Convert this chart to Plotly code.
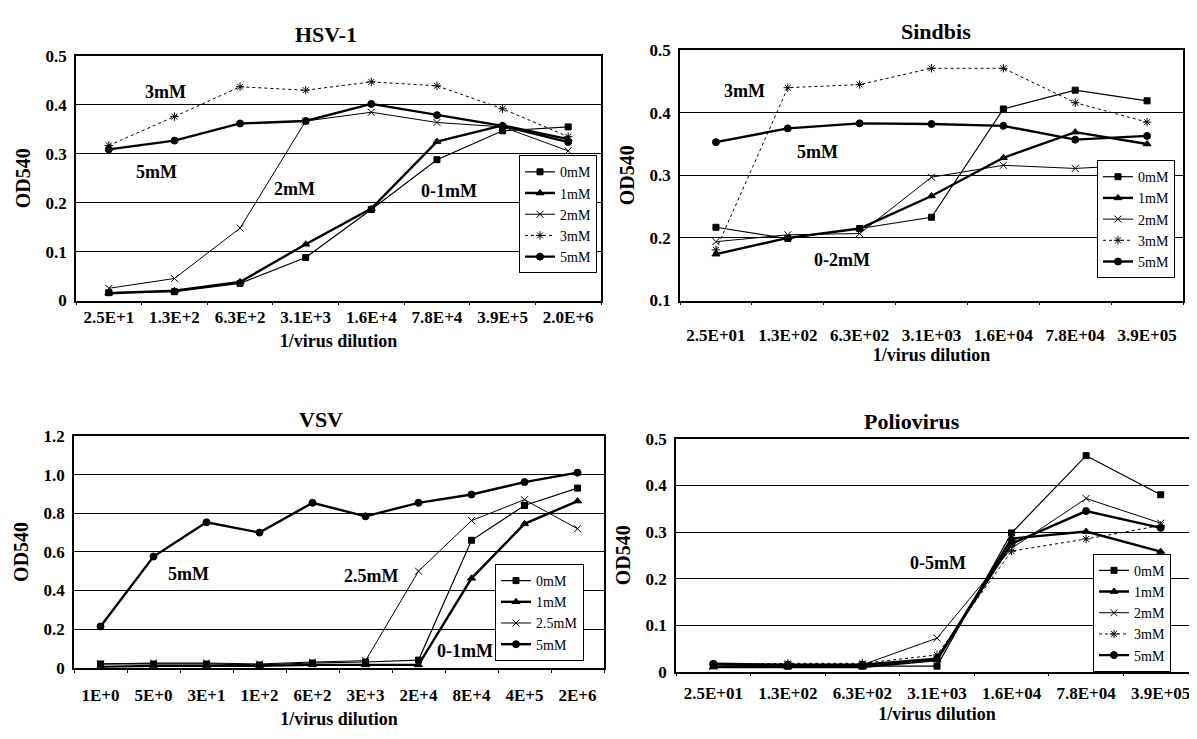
import plotly.graph_objects as go

# ---------------- data ----------------
hsv_x = ["2.5E+1", "1.3E+2", "6.3E+2", "3.1E+3", "1.6E+4", "7.8E+4", "3.9E+5", "2.0E+6"]
hsv_0 = [0.016, 0.018, 0.035, 0.088, 0.186, 0.288, 0.347, 0.355]
hsv_1 = [0.015, 0.020, 0.038, 0.115, 0.188, 0.325, 0.358, 0.330]
hsv_2 = [0.025, 0.045, 0.148, 0.367, 0.385, 0.364, 0.355, 0.306]
hsv_3 = [0.317, 0.376, 0.437, 0.430, 0.447, 0.439, 0.392, 0.335]
hsv_5 = [0.309, 0.327, 0.362, 0.367, 0.402, 0.379, 0.357, 0.324]

sin_x = ["2.5E+01", "1.3E+02", "6.3E+02", "3.1E+03", "1.6E+04", "7.8E+04", "3.9E+05"]
sin_0 = [0.217, 0.199, 0.215, 0.233, 0.406, 0.436, 0.419]
sin_1 = [0.174, 0.200, 0.215, 0.267, 0.328, 0.369, 0.350]
sin_2 = [0.194, 0.205, 0.207, 0.297, 0.316, 0.311, 0.317]
sin_3 = [0.181, 0.440, 0.445, 0.471, 0.471, 0.416, 0.385]
sin_5 = [0.353, 0.375, 0.383, 0.382, 0.379, 0.357, 0.363]

vsv_x = ["1E+0", "5E+0", "3E+1", "1E+2", "6E+2", "3E+3", "2E+4", "8E+4", "4E+5", "2E+6"]
vsv_0 = [0.020, 0.020, 0.020, 0.015, 0.025, 0.030, 0.040, 0.660, 0.840, 0.930]
vsv_1 = [0.005, 0.010, 0.010, 0.010, 0.015, 0.015, 0.015, 0.463, 0.745, 0.863]
vsv_25 = [0.020, 0.025, 0.025, 0.020, 0.030, 0.037, 0.500, 0.762, 0.870, 0.720]
vsv_5 = [0.214, 0.576, 0.753, 0.700, 0.854, 0.784, 0.854, 0.897, 0.961, 1.010]

pol_x = ["2.5E+01", "1.3E+02", "6.3E+02", "3.1E+03", "1.6E+04", "7.8E+04", "3.9E+05"]
pol_0 = [0.015, 0.012, 0.012, 0.012, 0.298, 0.464, 0.380]
pol_1 = [0.010, 0.010, 0.010, 0.025, 0.286, 0.301, 0.258]
pol_2 = [0.012, 0.015, 0.015, 0.072, 0.265, 0.372, 0.319]
pol_3 = [0.015, 0.018, 0.018, 0.036, 0.259, 0.285, 0.314]
pol_5 = [0.017, 0.015, 0.015, 0.028, 0.275, 0.345, 0.309]

# ---------------- styling ----------------
W, H = 1197, 739
SERIF = "Liberation Serif"

def px_x(p):
    return p / W

def px_y(p):
    return 1 - p / H

STYLE = {
    "0mM": dict(width=1.2, dash="solid", symbol="square", size=6),
    "1mM": dict(width=2.4, dash="solid", symbol="triangle-up", size=7),
    "2mM": dict(width=1.0, dash="solid", symbol="x-thin-open", size=7),
    "2.5mM": dict(width=1.0, dash="solid", symbol="x-thin-open", size=7),
    "3mM": dict(width=1.0, dash="dot", symbol="asterisk-open", size=7),
    "5mM": dict(width=2.4, dash="solid", symbol="circle", size=7),
}

fig = go.Figure()

def add(name, x, y, ax, leg):
    s = STYLE[name]
    fig.add_trace(go.Scatter(
        x=x, y=y, name=name, mode="lines+markers",
        xaxis="x" + ax, yaxis="y" + ax, legend=leg,
        line=dict(color="black", width=s["width"], dash=s["dash"]),
        marker=dict(symbol=s["symbol"], size=s["size"], color="black",
                    line=dict(color="black", width=1)),
    ))

for nm, arr in [("0mM", hsv_0), ("1mM", hsv_1), ("2mM", hsv_2), ("3mM", hsv_3), ("5mM", hsv_5)]:
    add(nm, hsv_x, arr, "", "legend")
for nm, arr in [("0mM", sin_0), ("1mM", sin_1), ("2mM", sin_2), ("3mM", sin_3), ("5mM", sin_5)]:
    add(nm, sin_x, arr, "2", "legend2")
for nm, arr in [("0mM", vsv_0), ("1mM", vsv_1), ("2.5mM", vsv_25), ("5mM", vsv_5)]:
    add(nm, vsv_x, arr, "3", "legend3")
for nm, arr in [("0mM", pol_0), ("1mM", pol_1), ("2mM", pol_2), ("3mM", pol_3), ("5mM", pol_5)]:
    add(nm, pol_x, arr, "4", "legend4")

tickfont = dict(family=SERIF, size=17, color="black", weight="bold")
axtitlefont = dict(family=SERIF, size=18, color="black", weight="bold")

def xaxis(dom, anchor, n, lab_off, title_off):
    return dict(domain=dom, anchor=anchor, type="category", range=[-0.5, n - 0.5],
                showline=True, linecolor="black", linewidth=1.5, mirror=True,
                ticks="outside", ticklen=3, tickcolor="black", tickson="boundaries",
                ticklabelstandoff=lab_off,
                showgrid=False, tickfont=tickfont, zeroline=False,
                title=dict(text="1/virus dilution", font=axtitlefont, standoff=title_off))

def yaxis(dom, anchor, rng, vals, texts):
    return dict(domain=dom, anchor=anchor, range=rng, tickvals=vals, ticktext=texts,
                showline=True, linecolor="black", linewidth=1.5, mirror=True,
                ticks="", showgrid=True, gridcolor="black", gridwidth=1,
                ticklabelstandoff=4,
                zeroline=False, tickfont=tickfont,
                title=dict(text="OD540", font=dict(family=SERIF, size=20, color="black", weight="bold"),
                           standoff=10))

d1x = [px_x(68), px_x(593)]; d1y = [px_y(291), px_y(40)]
d2x = [px_x(672), px_x(1175)]; d2y = [px_y(291), px_y(34)]
d3x = [px_x(66), px_x(596)]; d3y = [px_y(668), px_y(430)]
d4x = [px_x(668), px_x(1190)]; d4y = [px_y(672), px_y(433)]

def legend(xp, yp):
    return dict(x=px_x(xp), y=px_y(yp), xanchor="left", yanchor="bottom",
                bgcolor="white", bordercolor="black", borderwidth=1,
                font=dict(family=SERIF, size=14, color="black"),
                tracegroupgap=0, itemwidth=30)

fig.update_layout(
    width=W, height=H, margin=dict(l=0, r=0, t=0, b=0),
    paper_bgcolor="white", plot_bgcolor="white", showlegend=True,
    xaxis=xaxis(d1x, "y", len(hsv_x), 0, 9),
    yaxis=yaxis(d1y, "x", [0, 0.5], [0, 0.1, 0.2, 0.3, 0.4, 0.5],
                ["0", "0.1", "0.2", "0.3", "0.4", "0.5"]),
    xaxis2=xaxis(d2x, "y2", len(sin_x), 18, 2),
    yaxis2=yaxis(d2y, "x2", [0.1, 0.5], [0.1, 0.2, 0.3, 0.4, 0.5],
                 ["0.1", "0.2", "0.3", "0.4", "0.5"]),
    xaxis3=xaxis(d3x, "y3", len(vsv_x), 11, 8),
    yaxis3=yaxis(d3y, "x3", [0, 1.2], [0, 0.2, 0.4, 0.6, 0.8, 1.0, 1.2],
                 ["0", "0.2", "0.4", "0.6", "0.8", "1.0", "1.2"]),
    xaxis4=xaxis(d4x, "y4", len(pol_x), 5, 6),
    yaxis4=yaxis(d4y, "x4", [0, 0.5], [0, 0.1, 0.2, 0.3, 0.4, 0.5],
                 ["0", "0.1", "0.2", "0.3", "0.4", "0.5"]),
    legend=legend(511, 263),
    legend2=legend(1089, 268),
    legend3=legend(487, 661),
    legend4=legend(1085, 672),
)

titlefont = dict(family=SERIF, size=22, color="black", weight="bold")
for text, xp, yp in [("HSV-1", 318, 18), ("Sindbis", 928, 15), ("VSV", 313, 413), ("Poliovirus", 904, 415)]:
    fig.add_annotation(text=text, x=px_x(xp), y=px_y(yp), xref="paper", yref="paper",
                       showarrow=False, font=titlefont, xanchor="center", yanchor="middle")

labfont = dict(family=SERIF, size=18, color="black", weight="bold")
for text, xi, yv, ax in [
    ("3mM", 0.87, 0.427, ""), ("5mM", 0.73, 0.262, ""), ("2mM", 2.83, 0.228, ""), ("0-1mM", 5.19, 0.224, ""),
    ("3mM", 0.40, 0.434, "2"), ("5mM", 1.41, 0.337, "2"), ("0-2mM", 1.75, 0.165, "2"),
    ("5mM", 1.66, 0.484, "3"), ("2.5mM", 5.10, 0.475, "3"), ("0-1mM", 6.87, 0.088, "3"),
    ("0-5mM", 3.02, 0.234, "4"),
]:
    fig.add_annotation(text=text, x=xi, y=yv, xref="x" + ax, yref="y" + ax,
                       showarrow=False, font=labfont, xanchor="center", yanchor="middle")

fig.write_html("out.html")
